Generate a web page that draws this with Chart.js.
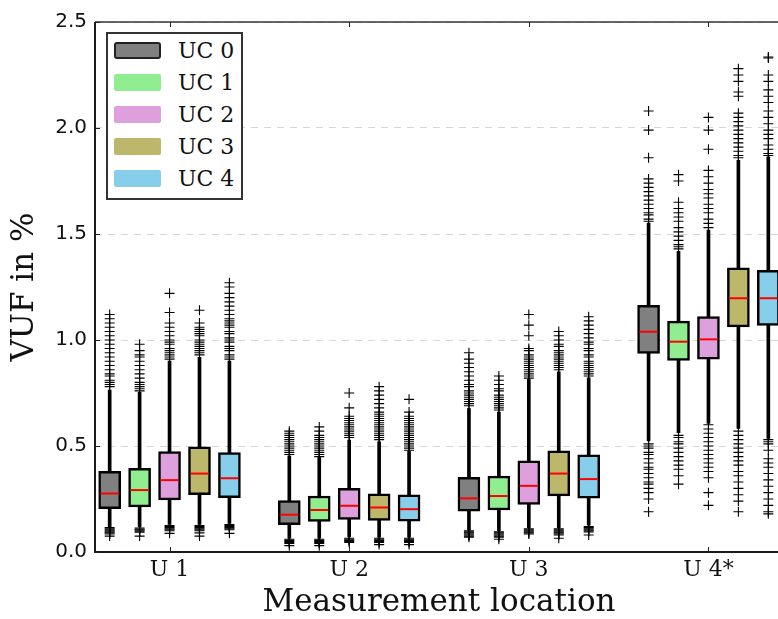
<!DOCTYPE html>
<html><head><meta charset="utf-8">
<script src="https://cdn.jsdelivr.net/npm/chart.js@4.4.1/dist/chart.umd.min.js"></script>
<style>
html,body{margin:0;padding:0;background:#fff;overflow:hidden}
#wrap{position:relative;width:778px;height:619px;overflow:hidden}
#c{position:absolute;left:0;top:0}
#legend{position:absolute;left:106px;top:32px;width:137px;height:168px;box-sizing:border-box;border:2px solid #333;background:#fff;font-family:"DejaVu Serif";font-size:22px;color:#111}
.sw{position:absolute;left:6px;width:47px;height:17px;box-sizing:border-box;border-radius:2px}
.lab{position:absolute;left:70px;height:17px;line-height:17px;white-space:nowrap}
</style></head>
<body><div id="wrap"><canvas id="c" width="783" height="619"></canvas><div id="legend"></div></div>
<script>
// ---- data ----
const locations = ['U 1', 'U 2', 'U 3', 'U 4*'];
const seriesNames = ['UC 0', 'UC 1', 'UC 2', 'UC 3', 'UC 4'];
const seriesColors = ['#808080', '#90EE90', '#DDA0DD', '#BDB76B', '#87CEEB'];
const yTickValues = [0, 0.5, 1.0, 1.5, 2.0, 2.5];

// per series: values for U1..U4
const q1 = [
  [0.204, 0.129, 0.193, 0.937],
  [0.213, 0.144, 0.198, 0.904],
  [0.246, 0.154, 0.224, 0.909],
  [0.270, 0.149, 0.265, 1.062],
  [0.256, 0.146, 0.254, 1.069]
];
const median = [
  [0.276, 0.176, 0.253, 1.039],
  [0.292, 0.198, 0.264, 0.992],
  [0.339, 0.218, 0.312, 1.003],
  [0.370, 0.210, 0.370, 1.197],
  [0.348, 0.202, 0.344, 1.197]
];
const q3 = [
  [0.380, 0.243, 0.352, 1.164],
  [0.395, 0.264, 0.358, 1.089],
  [0.474, 0.300, 0.430, 1.110],
  [0.496, 0.274, 0.477, 1.340],
  [0.469, 0.270, 0.458, 1.329]
];
const whiskerLow = [
  [0.118, 0.065, 0.104, 0.524],
  [0.118, 0.065, 0.101, 0.563],
  [0.130, 0.072, 0.115, 0.607],
  [0.130, 0.070, 0.115, 0.583],
  [0.135, 0.070, 0.126, 0.536]
];
const whiskerHigh = [
  [0.764, 0.453, 0.677, 1.552],
  [0.753, 0.446, 0.660, 1.418],
  [0.900, 0.528, 0.814, 1.518],
  [0.918, 0.520, 0.850, 1.848],
  [0.900, 0.475, 0.822, 1.864]
];
const outliersUC0 = [
  [0.78,0.79,0.80,0.81,0.83,0.84,0.86,0.88,0.90,0.92,0.94,0.96,0.98,1.00,1.02,1.04,1.06,1.08,1.10,1.12, 0.075,0.085,0.09,0.095,0.10,0.105,0.11,0.115],
  [0.46,0.47,0.48,0.49,0.50,0.51,0.52,0.53,0.54,0.55,0.56,0.57, 0.03,0.04,0.045,0.05,0.055,0.06],
  [0.69,0.70,0.71,0.72,0.73,0.74,0.75,0.76,0.78,0.79,0.81,0.83,0.85,0.87,0.89,0.91,0.94, 0.07,0.075,0.08,0.085,0.09,0.095,0.10],
  [1.56,1.57,1.59,1.60,1.62,1.64,1.66,1.68,1.70,1.72,1.74,1.76,1.86,1.99,2.08, 0.51,0.50,0.49,0.47,0.46,0.44,0.42,0.40,0.39,0.37,0.35,0.33,0.32,0.30,0.28,0.25,0.19]
];
const outliersUC1 = [
  [0.76,0.77,0.78,0.79,0.80,0.82,0.84,0.86,0.88,0.90,0.92,0.93,0.95,0.98, 0.075,0.093,0.098,0.103,0.108,0.113],
  [0.45,0.46,0.47,0.48,0.49,0.50,0.51,0.52,0.53,0.54,0.55,0.57,0.59, 0.03,0.04,0.045,0.05,0.055,0.06],
  [0.67,0.68,0.69,0.70,0.71,0.72,0.73,0.74,0.76,0.77,0.79,0.81,0.83, 0.06,0.07,0.075,0.08,0.085,0.09,0.095],
  [1.43,1.44,1.45,1.47,1.49,1.51,1.53,1.56,1.58,1.60,1.62,1.65,1.75,1.78, 0.55,0.54,0.52,0.51,0.49,0.47,0.45,0.43,0.41,0.39,0.36,0.32]
];
const outliersUC2 = [
  [0.91,0.92,0.93,0.94,0.95,0.96,0.98,0.99,1.00,1.02,1.04,1.06,1.08,1.13,1.22, 0.088,0.10,0.105,0.11,0.115,0.12,0.125],
  [0.54,0.55,0.56,0.57,0.58,0.59,0.60,0.61,0.62,0.63,0.64,0.68,0.75, 0.045,0.05,0.055,0.06,0.065],
  [0.82,0.83,0.84,0.85,0.86,0.87,0.88,0.89,0.90,0.91,0.92,0.93,0.95,0.96,1.02,1.07,1.12, 0.085,0.09,0.095,0.10,0.105,0.11],
  [1.53,1.55,1.57,1.60,1.62,1.64,1.67,1.69,1.71,1.74,1.77,1.80,1.90,1.99,2.05, 0.60,0.58,0.56,0.54,0.52,0.50,0.48,0.46,0.44,0.42,0.40,0.38,0.35,0.28,0.22]
];
const outliersUC3 = [
  [0.93,0.94,0.95,0.96,0.97,0.98,0.99,1.00,1.02,1.03,1.04,1.05,1.06,1.08,1.14, 0.075,0.09,0.10,0.105,0.11,0.115,0.12,0.125],
  [0.53,0.54,0.55,0.56,0.57,0.58,0.59,0.60,0.61,0.62,0.63,0.64,0.65,0.66,0.68,0.70,0.72,0.74,0.76,0.78, 0.035,0.045,0.05,0.055,0.06,0.065],
  [0.86,0.87,0.88,0.89,0.90,0.91,0.92,0.93,0.94,0.95,0.97,0.98,1.00,1.02,1.04, 0.065,0.08,0.085,0.09,0.095,0.10,0.105,0.11],
  [1.86,1.87,1.89,1.91,1.93,1.95,1.97,1.99,2.01,2.03,2.05,2.07,2.15,2.17,2.22,2.25,2.28, 0.57,0.55,0.53,0.51,0.49,0.47,0.45,0.43,0.41,0.38,0.36,0.33,0.30,0.27,0.24,0.19]
];
const outliersUC4 = [
  [0.91,0.92,0.93,0.95,0.96,0.97,0.99,1.00,1.01,1.03,1.04,1.06,1.07,1.08,1.09,1.10,1.12,1.14,1.16,1.18,1.20,1.22,1.25,1.27, 0.088,0.105,0.11,0.115,0.12,0.125,0.13],
  [0.48,0.49,0.50,0.51,0.52,0.53,0.54,0.55,0.56,0.57,0.58,0.59,0.60,0.61,0.62,0.63,0.64,0.66,0.72, 0.035,0.045,0.05,0.055,0.06,0.065],
  [0.83,0.84,0.85,0.86,0.87,0.88,0.89,0.90,0.92,0.93,0.95,0.96,0.98,0.99,1.01,1.03,1.05,1.07,1.09,1.11, 0.08,0.095,0.10,0.105,0.11,0.115,0.12],
  [1.87,1.88,1.90,1.92,1.95,1.97,1.99,2.02,2.05,2.08,2.12,2.15,2.18,2.22,2.25,2.33,2.335, 0.53,0.52,0.51,0.48,0.44,0.42,0.40,0.37,0.34,0.31,0.28,0.25,0.22,0.19,0.18]
];
const outliers = [outliersUC0, outliersUC1, outliersUC2, outliersUC3, outliersUC4];

// ---- build ----
const groupStep = 1 / 6;
const offsetOf = s => (s - 2) * groupStep;

const datasets = [];
seriesNames.forEach((name, s) => {
  const xs = locations.map((_, i) => i + 1 + offsetOf(s));
  datasets.push({
    type: 'bar', label: name + ' whisker', order: 5, grouped: false,
    data: xs.map((x, i) => ({x, y: [whiskerLow[s][i], whiskerHigh[s][i]]})),
    backgroundColor: '#000', borderWidth: 0, barThickness: 3
  });
  datasets.push({
    type: 'bar', label: name, order: 4, grouped: false,
    data: xs.map((x, i) => ({x, y: [q1[s][i], q3[s][i]]})),
    backgroundColor: seriesColors[s], borderColor: '#000', borderWidth: 2.5,
    borderSkipped: false, barThickness: 22
  });
  datasets.push({
    type: 'scatter', label: name + ' median', order: 3,
    data: xs.map((x, i) => ({x, y: median[s][i]})),
    pointStyle: 'line', radius: 9, borderColor: '#ff0000', borderWidth: 2, hoverRadius: 9
  });
  const pts = [];
  outliers[s].forEach((list, i) => list.forEach(v => pts.push({x: xs[i], y: v})));
  datasets.push({
    type: 'scatter', label: name + ' outliers', order: 2,
    data: pts, pointStyle: 'cross', radius: 5, borderColor: '#000', borderWidth: 1.1, hoverRadius: 5
  });
});

const frame = {
  id: 'frame',
  afterDatasetsDraw(chart) {
    const {ctx, chartArea: a, scales: {x, y}} = chart;
    ctx.save();
    ctx.strokeStyle = '#1a1a1a';
    ctx.lineWidth = 2;
    ctx.beginPath();
    ctx.moveTo(a.left, a.top); ctx.lineTo(a.left, a.bottom); ctx.lineTo(a.right, a.bottom);
    ctx.moveTo(a.right, a.top); ctx.lineTo(a.right, a.bottom);
    ctx.stroke();
    ctx.lineWidth = 1.5;
    ctx.strokeStyle = '#333';
    ctx.beginPath(); ctx.moveTo(a.left, a.top); ctx.lineTo(a.right, a.top); ctx.stroke();
    ctx.lineWidth = 1;
    ctx.strokeStyle = '#222';
    ctx.beginPath();
    y.ticks.forEach(t => {
      const py = Math.round(y.getPixelForValue(t.value)) + 0.5;
      ctx.moveTo(a.left, py); ctx.lineTo(a.left + 5, py);
      ctx.moveTo(a.right, py); ctx.lineTo(a.right - 5, py);
    });
    x.ticks.forEach(t => {
      const px = Math.round(x.getPixelForValue(t.value)) + 0.5;
      ctx.moveTo(px, a.bottom); ctx.lineTo(px, a.bottom - 5);
      ctx.moveTo(px, a.top); ctx.lineTo(px, a.top + 5);
    });
    ctx.stroke();
    ctx.restore();
  }
};

new Chart(document.getElementById('c'), {
  type: 'bar',
  data: {datasets},
  options: {
    responsive: false, animation: false, devicePixelRatio: 1,
    layout: {autoPadding: false, padding: {top: 22, left: 0, right: 0, bottom: 0}},
    plugins: {legend: {display: false}, tooltip: {enabled: false}},
    scales: {
      x: {
        type: 'linear', min: 0.585, max: 4.415, offset: false,
        afterBuildTicks: s => { s.ticks = locations.map((_, i) => ({value: i + 1})); },
        afterFit: s => { s.height = 67; },
        grid: {display: false, drawTicks: false, offset: false},
        border: {display: false},
        ticks: {
          callback: v => locations[Math.round(v) - 1],
          font: {family: 'DejaVu Serif', size: 22}, color: '#111', padding: 5,
          maxRotation: 0, autoSkip: false
        },
        title: {display: true, text: 'Measurement location', color: '#111',
          font: {family: 'DejaVu Serif', size: 31, lineHeight: 1}, padding: {top: 0, bottom: 1}}
      },
      y: {
        type: 'linear', min: 0, max: 2.5,
        afterBuildTicks: s => { s.ticks = yTickValues.map(v => ({value: v})); },
        afterFit: s => { s.width = 95; },
        grid: {color: '#d6d6d6', lineWidth: 1, drawTicks: false},
        border: {display: false, dash: [7, 6]},
        ticks: {
          callback: v => v.toFixed(1),
          font: {family: 'DejaVu Sans', size: 20}, color: '#111', padding: 8
        },
        title: {display: true, text: 'VUF in %', color: '#111',
          font: {family: 'DejaVu Serif', size: 31, lineHeight: 1.2}, padding: {top: 6, bottom: 0}}
      }
    }
  },
  plugins: [frame]
});

// legend (HTML, from the series arrays)
const lg = document.getElementById('legend');
seriesNames.forEach((name, s) => {
  const top = 8 + s * 32;
  const sw = document.createElement('div');
  sw.className = 'sw';
  sw.style.top = top + 'px';
  sw.style.background = seriesColors[s];
  if (s === 0) { sw.style.border = '2.5px solid #222'; sw.style.borderRadius = '3px'; }
  const lab = document.createElement('div');
  lab.className = 'lab';
  lab.style.top = top + 'px';
  lab.textContent = name;
  lg.appendChild(sw); lg.appendChild(lab);
});
</script>
</body></html>
